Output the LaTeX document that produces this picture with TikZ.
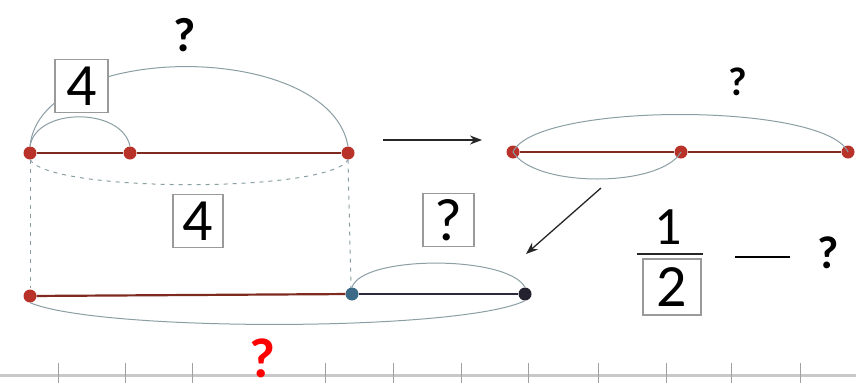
\documentclass[tikz,border=0pt]{standalone}
\usepackage{fontspec}
\setmainfont{Carlito}
\usetikzlibrary{arrows.meta}
\definecolor{segred}{HTML}{7E2A1E}
\definecolor{dotred}{HTML}{B8322A}
\definecolor{dotblue}{HTML}{3C6A86}
\definecolor{dotblack}{HTML}{24222E}
\definecolor{segnavy}{HTML}{2C2A3C}
\definecolor{arcgray}{HTML}{8A9EA4}
\definecolor{boxgray}{HTML}{9A9A9A}
\definecolor{axisgray}{HTML}{C8C8C8}
\tikzset{
  dotnode/.style={circle,inner sep=0pt,minimum size=13pt,fill=#1},
  seg/.style={line width=2.2pt,draw=#1},
  arcline/.style={draw=arcgray,line width=1pt},
  dashline/.style={draw=arcgray,line width=1pt,dash pattern=on 4pt off 5pt},
  numbox/.style={draw=boxgray,line width=1.2pt,fill=white,inner sep=0pt,
    minimum width=#1,minimum height=53pt,font=\fontsize{60}{60}\selectfont},
  qmark/.style={font=\fontsize{#1}{#1}\selectfont\bfseries,inner sep=0pt},
  arr/.style={draw=black!85,line width=1.3pt,-{Stealth[length=12pt,width=9pt]}},
}
\begin{document}
\begin{tikzpicture}[x=1pt,y=-1pt]
\useasboundingbox (0,0) rectangle (856,383);
% axis at the bottom
\coordinate (axL) at (0,375);
\coordinate (axR) at (856,375);
\draw[axisgray,line width=3pt] (axL) -- (axR);
\foreach \t in {58,125,192,325,393,461,528,598,666,731,800}
  \draw[axisgray!80!black,line width=1pt] (\t,363) -- (\t,383);

% ---- top left figure
\node[dotnode=dotred] (A1) at (30,153) {};
\node[dotnode=dotred] (A2) at (130,153) {};
\node[dotnode=dotred] (A3) at (348,153) {};
\draw[seg=segred] (A1) -- (A2);
\draw[seg=segred] (A2) -- (A3);
\draw[arcline] (A1.north) .. controls (36,107) and (122,107) .. (A2.north);
\draw[arcline] (A1.north) .. controls (40,40) and (330,40) .. (A3.north);
\draw[dashline] (A1.south) .. controls (50,193) and (330,193) .. (A3.south);
\node[numbox=53pt] (b4a) at (81.5,86) {4};
\node[qmark=48pt] (qa) at (185,35) {?};

% vertical dashed guides
\coordinate (g1) at (30,288);
\coordinate (g2) at (351,288);
\draw[dashline] (A1.south) -- (g1);
\draw[dashline] (A3.south) -- (g2);

% ---- right figure
\node[dotnode=dotred] (C1) at (513,152) {};
\node[dotnode=dotred] (C2) at (681,152) {};
\node[dotnode=dotred] (C3) at (848,152) {};
\draw[seg=segred] (C1) -- (C2);
\draw[seg=segred] (C2) -- (C3);
\draw[arcline] (C1.center) .. controls (535,102) and (825,102) .. (C3.center);
\draw[arcline] (C1.center) .. controls (535,188) and (660,188) .. (C2.center);
\node[qmark=40pt] (qc) at (738,82) {?};
\coordinate (lowmid) at (601,188);

% arrows
\coordinate (r1) at (383,140);
\coordinate (r2) at (482,140);
\coordinate (d2) at (526,254);
\draw[arr] (r1) -- (r2);

% ---- bottom figure
\node[dotnode=dotred] (B1) at (30,296) {};
\node[dotnode=dotblue] (B2) at (352,294) {};
\node[dotnode=dotblack] (B3) at (525,294) {};
\draw[seg=segred] (B1) -- (B2);
\draw[seg=segnavy] (B2) -- (B3);
\draw[arcline] (B2.north) .. controls (362,255) and (508,255) .. (B3.north);
\draw[arcline] (B1.south) .. controls (100,332) and (460,332) .. (B3.south);
\node[numbox=50pt] (b4b) at (198,221) {4};
\node[numbox=51pt] (bq) at (448.5,220) {?};
\node[qmark=56pt,text=red] (qr) at (262,358) {?};

\draw[arr] (lowmid) -- (d2);

% ---- fraction
\node[font=\fontsize{54}{54}\selectfont,inner sep=0pt] (one) at (668,227) {1};
\coordinate (fbL) at (637,254);
\coordinate (fbR) at (703,254);
\draw[black!85,line width=1.5pt] (fbL) -- (fbR);
\node[numbox=58pt,minimum height=56pt] (two) at (672,287) {2};
\coordinate (dL) at (735,257);
\coordinate (dR) at (790,257);
\draw[black,line width=2.6pt] (dL) -- (dR);
\node[qmark=46pt] (qf) at (828,253) {?};
\end{tikzpicture}
\end{document}
